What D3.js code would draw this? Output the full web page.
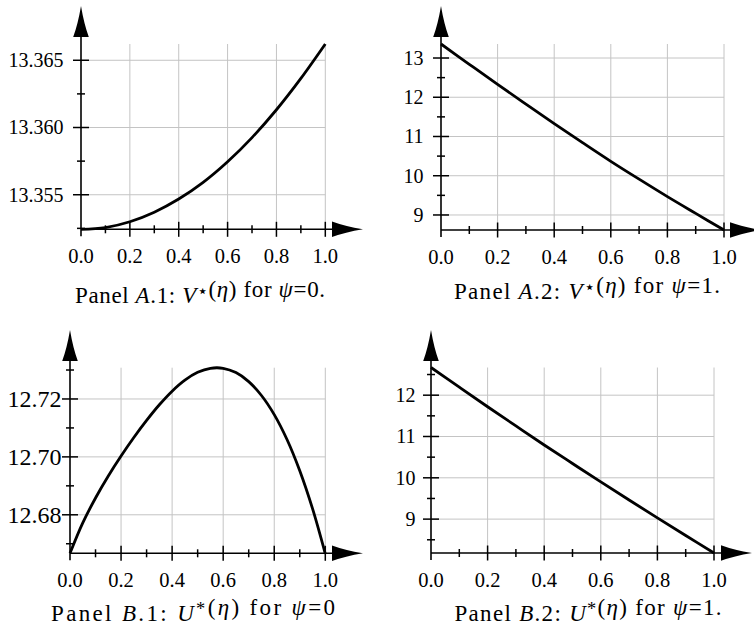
<!DOCTYPE html>
<html>
<head>
<meta charset="utf-8">
<script src="https://cdn.jsdelivr.net/npm/d3@7"></script>
<style>
  body { margin: 0; background: #fff; }
  text { font-family: "Liberation Serif", "DejaVu Serif", serif; fill: #000; }
</style>
</head>
<body>
<script>
// eta grid
const eta10 = [0, 0.1, 0.2, 0.3, 0.4, 0.5, 0.6, 0.7, 0.8, 0.9, 1.0];
const eta05 = [0, 0.05, 0.1, 0.15, 0.2, 0.25, 0.3, 0.35, 0.4, 0.45, 0.5,
               0.55, 0.6, 0.65, 0.7, 0.75, 0.8, 0.85, 0.9, 0.95, 1.0];

// Panel A.1: V*(eta), psi = 0
const vPsi0 = [13.35243, 13.35256, 13.35299, 13.35370, 13.35468, 13.35592,
               13.35745, 13.35925, 13.36132, 13.36365, 13.36621];
// Panel A.2: V*(eta), psi = 1
const vPsi1 = [13.357, 12.84, 12.327, 11.825, 11.327, 10.843, 10.367, 9.912, 9.467, 9.04, 8.617];
// Panel B.1: U*(eta), psi = 0
const uPsi0 = [12.6667, 12.6772, 12.6858, 12.6934, 12.7003, 12.7067, 12.7126, 12.7180,
               12.7227, 12.7265, 12.7292, 12.7306, 12.7306, 12.7291, 12.7260, 12.7212,
               12.7146, 12.7060, 12.6952, 12.6821, 12.6665];
// Panel B.2: U*(eta), psi = 1
const uPsi1 = [12.67, 12.193, 11.72, 11.256, 10.795, 10.346, 9.9, 9.463, 9.03, 8.603, 8.18];

// ticks
const xMajor = [0.2, 0.4, 0.6, 0.8, 1.0];
const xMinor = [0.1, 0.3, 0.5, 0.7, 0.9];
const xLabels = ["0.0", "0.2", "0.4", "0.6", "0.8", "1.0"];
const yMajorA1 = [13.355, 13.360, 13.365];
const yMinorA1 = [13.3525, 13.3575, 13.3625];
const yLabelsA1 = ["13.355", "13.360", "13.365"];
const yMajorA2 = [9, 10, 11, 12, 13];
const yMinorA2 = [9.5, 10.5, 11.5, 12.5];
const yLabelsA2 = ["9", "10", "11", "12", "13"];
const yMajorB1 = [12.68, 12.70, 12.72];
const yMinorB1 = [12.67, 12.69, 12.71, 12.73];
const yLabelsB1 = ["12.68", "12.70", "12.72"];
const yMajorB2 = [9, 10, 11, 12];
const yMinorB2 = [8.5, 9.5, 10.5, 11.5, 12.5];
const yLabelsB2 = ["9", "10", "11", "12"];

const W = 754, H = 634;
const svg = d3.select("body").append("svg")
    .attr("width", W)
    .attr("height", H);

// layout of each panel (pixels) + which data it draws
const panels = [
  {x0: 81, x1: 325.3, yb: 229.3, yt: 44, dom: [13.35243, 13.36621], eta: eta10, vals: vPsi0,
   yMajor: yMajorA1, yMinor: yMinorA1, yLabels: yLabelsA1, yFont: 20, yLabelGap: 17.5,
   arrowTop: 6, arrowRight: 363, capX: 200, capY: 303, capW: 250,
   cap: ["Panel ", ["A", "i"], ".1: ", ["V", "i"], ["\u22C6", "sup"], "(", ["\u03B7", "i"], ") for ", ["\u03C8", "i"], "=0."]},
  {x0: 441, x1: 724, yb: 230, yt: 44, dom: [8.617, 13.357], eta: eta10, vals: vPsi1,
   yMajor: yMajorA2, yMinor: yMinorA2, yLabels: yLabelsA2, yFont: 20, yLabelGap: 17.5,
   arrowTop: 6, arrowRight: 761, capX: 587, capY: 299, capW: 266,
   cap: ["Panel ", ["A", "i"], ".2: ", ["V", "i"], ["\u22C6", "sup"], "(", ["\u03B7", "i"], ") for ", ["\u03C8", "i"], "=1."]},
  {x0: 70, x1: 325.3, yb: 553.3, yt: 367.7, dom: [12.6667, 12.7308], eta: eta05, vals: uPsi0,
   yMajor: yMajorB1, yMinor: yMinorB1, yLabels: yLabelsB1, yFont: 24, yLabelGap: 8.5,
   arrowTop: 330, arrowRight: 363, capX: 193, capY: 621, capW: 284,
   cap: ["Panel ", ["B", "i"], ".1: ", ["U", "i"], ["*", "sup"], "(", ["\u03B7", "i"], ") for ", ["\u03C8", "i"], "=0"]},
  {x0: 431, x1: 714, yb: 553, yt: 367.5, dom: [8.18, 12.67], eta: eta10, vals: uPsi1,
   yMajor: yMajorB2, yMinor: yMinorB2, yLabels: yLabelsB2, yFont: 20, yLabelGap: 15.5,
   arrowTop: 330, arrowRight: 752, capX: 588, capY: 621, capW: 267,
   cap: ["Panel ", ["B", "i"], ".2: ", ["U", "i"], ["*", "sup"], "(", ["\u03B7", "i"], ") for ", ["\u03C8", "i"], "=1."]}
];

panels.forEach(function(p) {
    const x = d3.scaleLinear().domain([0, 1]).range([p.x0, p.x1]);
    const y = d3.scaleLinear().domain(p.dom).range([p.yb, p.yt]);
    const g = svg.append("g");

    // grid
    g.selectAll(".vgrid").data(xMajor).enter().append("line")
        .attr("x1", d => x(d)).attr("x2", d => x(d))
        .attr("y1", p.yb).attr("y2", p.yt)
        .attr("stroke", "#c4c4c4").attr("stroke-width", 1);
    g.selectAll(".hgrid").data(p.yMajor).enter().append("line")
        .attr("x1", p.x0).attr("x2", p.x1)
        .attr("y1", d => y(d)).attr("y2", d => y(d))
        .attr("stroke", "#c4c4c4").attr("stroke-width", 1);

    // axes lines
    const arrowLen = 31, arrowHalf = 7.8;
    g.append("line")
        .attr("x1", p.x0).attr("x2", p.arrowRight - arrowLen + 2)
        .attr("y1", p.yb).attr("y2", p.yb)
        .attr("stroke", "#000").attr("stroke-width", 1.6);
    g.append("line")
        .attr("x1", p.x0).attr("x2", p.x0)
        .attr("y1", p.yb + 7).attr("y2", p.arrowTop + arrowLen - 2)
        .attr("stroke", "#000").attr("stroke-width", 1.6);

    // arrow heads
    g.append("path")
        .attr("d", "M" + p.x0 + "," + p.arrowTop +
            " Q" + (p.x0 + 3) + "," + (p.arrowTop + 18) + " " + (p.x0 + arrowHalf) + "," + (p.arrowTop + arrowLen) +
            " L" + (p.x0 - arrowHalf) + "," + (p.arrowTop + arrowLen) +
            " Q" + (p.x0 - 3) + "," + (p.arrowTop + 18) + " " + p.x0 + "," + p.arrowTop + "Z")
        .attr("fill", "#000");
    g.append("path")
        .attr("d", "M" + p.arrowRight + "," + p.yb +
            " Q" + (p.arrowRight - 18) + "," + (p.yb - 3) + " " + (p.arrowRight - arrowLen) + "," + (p.yb - arrowHalf) +
            " L" + (p.arrowRight - arrowLen) + "," + (p.yb + arrowHalf) +
            " Q" + (p.arrowRight - 18) + "," + (p.yb + 3) + " " + p.arrowRight + "," + p.yb + "Z")
        .attr("fill", "#000");

    // x ticks
    g.selectAll(".xmaj").data(xMajor).enter().append("line")
        .attr("x1", d => x(d)).attr("x2", d => x(d))
        .attr("y1", p.yb - 7.5).attr("y2", p.yb + 7.5)
        .attr("stroke", "#000").attr("stroke-width", 1.5);
    g.selectAll(".xmin").data(xMinor).enter().append("line")
        .attr("x1", d => x(d)).attr("x2", d => x(d))
        .attr("y1", p.yb - 4).attr("y2", p.yb + 4)
        .attr("stroke", "#000").attr("stroke-width", 1.5);
    g.selectAll(".xlab").data(xLabels).enter().append("text")
        .attr("x", (d, i) => x(i * 0.2))
        .attr("y", p.yb + 34)
        .attr("text-anchor", "middle")
        .style("font-size", "20.5px")
        .text(d => d);

    // y ticks
    g.selectAll(".ymaj").data(p.yMajor).enter().append("line")
        .attr("x1", p.x0 - 8).attr("x2", p.x0 + 8)
        .attr("y1", d => y(d)).attr("y2", d => y(d))
        .attr("stroke", "#000").attr("stroke-width", 1.5);
    g.selectAll(".ymin").data(p.yMinor).enter().append("line")
        .attr("x1", p.x0 - 4).attr("x2", p.x0 + 4)
        .attr("y1", d => y(d)).attr("y2", d => y(d))
        .attr("stroke", "#000").attr("stroke-width", 1.5);
    g.selectAll(".ylab").data(p.yMajor).enter().append("text")
        .attr("x", p.x0 - p.yLabelGap)
        .attr("y", d => y(d))
        .attr("dy", "0.34em")
        .attr("text-anchor", "end")
        .style("font-size", p.yFont + "px")
        .text((d, i) => p.yLabels[i]);

    // curve
    const line = d3.line()
        .x((d, i) => x(p.eta[i]))
        .y(d => y(d))
        .curve(d3.curveCatmullRom);
    g.append("path")
        .datum(p.vals)
        .attr("d", line)
        .attr("fill", "none")
        .attr("stroke", "#000")
        .attr("stroke-width", 2.8);

    // caption
    const cap = g.append("text")
        .attr("x", p.capX)
        .attr("y", p.capY)
        .attr("text-anchor", "middle")
        .attr("textLength", p.capW)
        .attr("lengthAdjust", "spacing")
        .style("font-size", "23px");
    p.cap.forEach(function(part) {
        if (typeof part === "string") {
            cap.append("tspan").attr("xml:space", "preserve").text(part);
        } else if (part[1] === "i") {
            cap.append("tspan").style("font-style", "italic").text(part[0]);
        } else {
            cap.append("tspan").attr("dy", "-0.35em").style("font-size", "0.8em").text(part[0]);
            cap.append("tspan").attr("dy", "0.35em").text("");
        }
    });
});
</script>
</body>
</html>
